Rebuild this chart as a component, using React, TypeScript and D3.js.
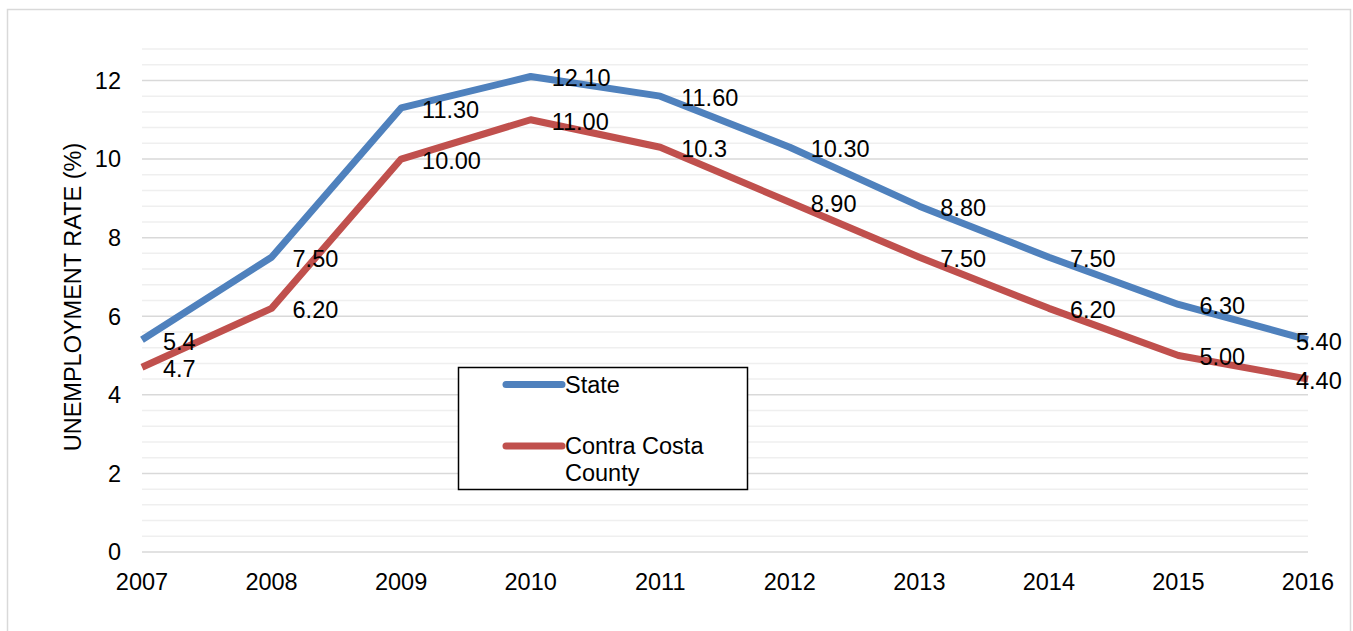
import React from "react";
import * as d3 from "d3";

const years = ["2007", "2008", "2009", "2010", "2011", "2012", "2013", "2014", "2015", "2016"];
const stateValues = [5.4, 7.5, 11.3, 12.1, 11.6, 10.3, 8.8, 7.5, 6.3, 5.4];
const countyValues = [4.7, 6.2, 10.0, 11.0, 10.3, 8.9, 7.5, 6.2, 5.0, 4.4];
const stateLabels = ["5.4", "7.50", "11.30", "12.10", "11.60", "10.30", "8.80", "7.50", "6.30", "5.40"];
const countyLabels = ["4.7", "6.20", "10.00", "11.00", "10.3", "8.90", "7.50", "6.20", "5.00", "4.40"];
const yTicks = [0, 2, 4, 6, 8, 10, 12];
const seriesNames = ["State", "Contra Costa County"];

const FONT = "'Liberation Sans', Arial, sans-serif";
const FS = 23.5;

export default function App() {
  const x = d3.scalePoint<string>().domain(years).range([142, 1308]);
  const y = d3.scaleLinear().domain([0, 12.8]).range([552, 49]);
  const minor = d3.range(0, 12.8 + 0.001, 0.4);
  const line = d3
    .line<number>()
    .x((_, i) => x(years[i]) as number)
    .y((d) => y(d));

  const series = [
    { name: seriesNames[0], values: stateValues, labels: stateLabels, color: "#4F81BD" },
    { name: seriesNames[1], values: countyValues, labels: countyLabels, color: "#C0504D" },
  ];

  return (
    <svg
      width={1353}
      height={631}
      style={{ position: "absolute", left: 0, top: 0, background: "#fff" }}
      fontFamily={FONT}
    >
      <rect x={7.5} y={9.5} width={1343} height={640} fill="#fff" stroke="#d9d9d9" strokeWidth={1.5} />
      {minor.map((v, i) => (
        <line
          key={"m" + i}
          x1={142}
          x2={1308}
          y1={y(v)}
          y2={y(v)}
          stroke={i % 5 === 0 ? "#d9d9d9" : "#efefef"}
          strokeWidth={1.5}
        />
      ))}
      {yTicks.map((t) => (
        <text key={"yt" + t} x={121} y={y(t)} dy="0.36em" textAnchor="end" fontSize={FS} fill="#000">
          {t}
        </text>
      ))}
      {years.map((yr) => (
        <text key={"xt" + yr} x={x(yr)} y={590} textAnchor="middle" fontSize={FS} fill="#000">
          {yr}
        </text>
      ))}
      <text
        transform={`translate(81,297) rotate(-90)`}
        textAnchor="middle"
        fontSize={FS}
        fill="#000"
      >
        UNEMPLOYMENT RATE (%)
      </text>
      {series.map((s) => (
        <path
          key={s.name}
          d={line(s.values) || ""}
          fill="none"
          stroke={s.color}
          strokeWidth={7}
          strokeLinejoin="round"
        />
      ))}
      {series.map((s) =>
        s.values.map((v, i) => {
          const last = i === years.length - 1;
          const px = (x(years[i]) as number) + (last ? -12 : 21);
          return (
            <text
              key={s.name + i}
              x={px}
              y={y(v) + 1.5}
              dy="0.36em"
              fontSize={FS}
              fill="#000"
            >
              {s.labels[i]}
            </text>
          );
        })
      )}
      <g>
        <rect x={458.5} y={367.5} width={289} height={122} fill="#fff" stroke="#000" strokeWidth={1.5} />
        <line x1={506} x2={562} y1={384.5} y2={384.5} stroke={series[0].color} strokeWidth={7} strokeLinecap="round" />
        <text x={565} y={393} fontSize={FS} fill="#000">
          {series[0].name}
        </text>
        <line x1={506} x2={562} y1={446} y2={446} stroke={series[1].color} strokeWidth={7} strokeLinecap="round" />
        <text x={565} y={453.5} fontSize={FS} fill="#000">
          Contra Costa
        </text>
        <text x={565} y={481} fontSize={FS} fill="#000">
          County
        </text>
      </g>
    </svg>
  );
}
